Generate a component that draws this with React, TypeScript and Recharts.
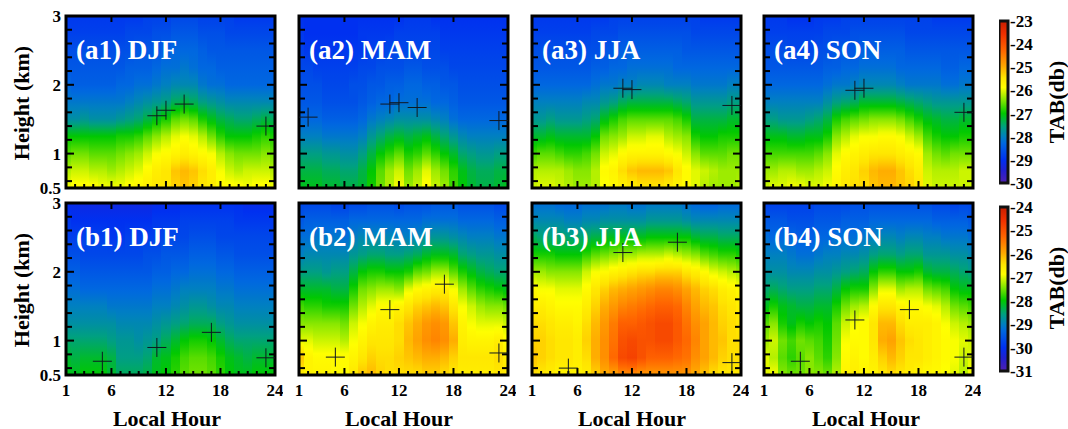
import React from 'react';
import { ScatterChart, Scatter, XAxis, YAxis, ReferenceArea } from 'recharts';

// TAB magnitudes in dB (the plotted value is the negative). Rows are the heights, columns hours 1..24.
const heights = [0.5, 0.75, 1, 1.25, 1.5, 1.75, 2, 2.25, 2.5, 2.75, 3];
const hours = [1,2,3,4,5,6,7,8,9,10,11,12,13,14,15,16,17,18,19,20,21,22,23,24];
const xLabels = [1, 6, 12, 18, 24];
const xInnerTicks = [2,3,4,5,6,7,8,9,10,11,12,13,14,15,16,17,18,19,20,21,22,23];
const xMajor = [6, 12, 18];
const yInnerTicks = [0.6,0.8,1,1.2,1.4,1.6,1.8,2,2.2,2.4,2.6,2.8];
const yMajor = [1, 2];
const yLabels = [0.5, 1, 2, 3];

const a1 = [
[25.9,25.8,25.8,25.8,25.9,25.9,25.9,25.8,25.7,25.6,25.5,25.5,25.3,25.2,25.3,25.5,25.6,25.8,25.8,25.8,25.9,25.8,25.8,25.9],
[26.2,26.1,26.1,26.2,26.2,26.3,26.2,26.1,26.0,25.8,25.6,25.5,25.2,25.1,25.2,25.4,25.6,25.9,26.1,26.2,26.1,26.1,26.1,26.2],
[26.6,26.5,26.5,26.6,26.6,26.6,26.5,26.4,26.3,26.1,25.9,25.8,25.7,25.6,25.7,25.8,25.9,26.2,26.4,26.5,26.5,26.5,26.4,26.5],
[27.0,27.0,27.0,27.0,27.0,27.0,26.9,26.9,26.8,26.6,26.4,26.2,26.0,25.9,26.0,26.2,26.5,26.8,27.0,27.0,27.0,26.9,26.8,26.9],
[27.8,27.8,27.7,27.8,27.8,27.8,27.7,27.6,27.5,27.3,27.1,26.9,26.6,26.5,26.6,26.9,27.1,27.3,27.4,27.5,27.5,27.4,27.3,27.4],
[28.1,28.1,28.1,28.1,28.1,28.1,28.1,28.0,27.9,27.8,27.7,27.6,27.4,27.3,27.4,27.6,27.7,27.8,27.9,27.9,27.9,27.9,27.9,27.9],
[28.3,28.4,28.4,28.4,28.4,28.4,28.3,28.3,28.2,28.2,28.1,28.0,27.9,27.9,27.9,28.1,28.2,28.2,28.3,28.3,28.3,28.3,28.3,28.3],
[28.5,28.5,28.5,28.5,28.5,28.5,28.5,28.4,28.4,28.4,28.3,28.2,28.2,28.1,28.2,28.3,28.3,28.4,28.4,28.4,28.4,28.4,28.4,28.4],
[28.6,28.6,28.6,28.6,28.6,28.6,28.6,28.6,28.5,28.5,28.5,28.4,28.3,28.3,28.3,28.4,28.5,28.5,28.5,28.5,28.5,28.5,28.5,28.5],
[28.8,28.8,28.8,28.8,28.8,28.8,28.8,28.7,28.7,28.7,28.6,28.6,28.5,28.5,28.5,28.6,28.6,28.6,28.7,28.7,28.7,28.7,28.7,28.7],
[28.9,28.9,28.9,28.9,28.9,28.9,28.9,28.9,28.9,28.8,28.8,28.8,28.7,28.7,28.7,28.8,28.8,28.8,28.8,28.9,28.9,28.9,28.9,28.9],
];
const a2 = [
[27.1,27.1,27.1,27.2,27.2,27.3,27.3,27.2,26.9,26.5,26.2,25.9,26.3,26.1,25.8,26.1,26.3,26.7,27.0,27.2,27.3,27.3,27.2,27.1],
[27.3,27.3,27.3,27.4,27.4,27.5,27.5,27.3,27.0,26.6,26.3,26.1,26.5,26.3,26.0,26.3,26.5,26.8,27.1,27.3,27.4,27.4,27.3,27.3],
[27.6,27.6,27.6,27.7,27.7,27.8,27.8,27.6,27.3,27.0,26.8,26.6,26.9,26.8,26.6,26.8,27.0,27.2,27.5,27.6,27.7,27.7,27.6,27.6],
[28.0,28.0,28.0,28.1,28.1,28.1,28.1,28.0,27.7,27.5,27.3,27.2,27.3,27.2,27.1,27.3,27.5,27.7,27.9,28.0,28.0,28.0,28.0,28.0],
[28.3,28.3,28.3,28.4,28.4,28.4,28.4,28.3,28.1,28.0,27.9,27.8,27.8,27.8,27.8,27.9,28.0,28.2,28.3,28.3,28.3,28.3,28.3,28.3],
[28.5,28.5,28.5,28.6,28.6,28.6,28.6,28.5,28.4,28.3,28.3,28.2,28.2,28.2,28.2,28.3,28.3,28.4,28.5,28.5,28.5,28.5,28.5,28.5],
[28.6,28.6,28.6,28.7,28.7,28.7,28.6,28.6,28.5,28.5,28.4,28.4,28.3,28.3,28.4,28.4,28.5,28.5,28.6,28.6,28.6,28.6,28.6,28.6],
[28.7,28.7,28.8,28.8,28.8,28.8,28.8,28.7,28.7,28.6,28.6,28.6,28.5,28.5,28.6,28.6,28.6,28.7,28.7,28.7,28.7,28.7,28.7,28.7],
[28.8,28.9,28.9,28.9,28.9,28.9,28.9,28.9,28.8,28.8,28.7,28.7,28.7,28.7,28.7,28.7,28.8,28.8,28.8,28.8,28.8,28.8,28.8,28.8],
[28.9,29.0,29.0,29.0,29.0,29.0,29.0,28.9,28.9,28.9,28.9,28.8,28.8,28.8,28.8,28.8,28.9,28.9,28.9,28.9,28.9,28.9,28.9,28.9],
[29.0,29.0,29.0,29.0,29.0,29.0,29.0,29.0,29.0,29.0,29.0,29.0,28.9,28.9,28.9,29.0,29.0,29.0,29.0,29.0,29.0,29.0,29.0,29.0],
];
const a3 = [
[26.1,26.0,26.0,26.1,26.2,26.3,26.3,26.2,25.9,25.8,25.7,25.6,25.5,25.5,25.5,25.6,25.7,25.8,26.0,26.2,26.3,26.3,26.3,26.2],
[26.2,26.2,26.2,26.2,26.3,26.4,26.4,26.2,25.8,25.7,25.4,25.2,25.1,25.1,25.1,25.2,25.5,25.8,26.0,26.1,26.2,26.3,26.3,26.3],
[26.7,26.6,26.6,26.7,26.8,26.8,26.7,26.5,26.1,26.0,25.8,25.7,25.7,25.7,25.7,25.8,25.9,26.1,26.4,26.6,26.6,26.6,26.5,26.5],
[27.2,27.2,27.1,27.2,27.2,27.2,27.2,27.0,26.5,26.4,26.3,26.1,26.1,26.0,26.0,26.2,26.3,26.4,26.9,27.0,27.0,26.9,26.9,26.9],
[27.7,27.7,27.6,27.7,27.7,27.7,27.6,27.5,27.1,26.9,26.7,26.6,26.6,26.6,26.6,26.6,26.7,26.9,27.3,27.3,27.3,27.3,27.2,27.2],
[28.0,28.0,28.0,28.0,28.0,28.0,27.9,27.9,27.7,27.6,27.4,27.3,27.3,27.3,27.3,27.3,27.4,27.5,27.7,27.7,27.7,27.7,27.6,27.6],
[28.3,28.3,28.3,28.3,28.3,28.3,28.3,28.2,28.1,28.1,28.0,28.0,27.9,27.9,27.9,28.0,28.0,28.0,28.1,28.1,28.1,28.1,28.0,28.0],
[28.5,28.5,28.5,28.5,28.5,28.5,28.5,28.4,28.4,28.3,28.3,28.2,28.2,28.2,28.2,28.2,28.3,28.3,28.3,28.3,28.3,28.3,28.3,28.3],
[28.6,28.6,28.6,28.6,28.6,28.6,28.6,28.6,28.5,28.5,28.4,28.4,28.4,28.4,28.4,28.4,28.4,28.5,28.5,28.5,28.5,28.5,28.5,28.5],
[28.8,28.8,28.8,28.8,28.8,28.8,28.8,28.7,28.7,28.7,28.6,28.6,28.6,28.6,28.6,28.6,28.6,28.6,28.7,28.7,28.7,28.7,28.7,28.7],
[28.9,28.9,28.9,28.9,28.9,28.9,28.9,28.9,28.9,28.8,28.8,28.8,28.8,28.8,28.8,28.8,28.8,28.8,28.8,28.9,28.9,28.9,28.9,28.9],
];
const a4 = [
[26.1,26.0,26.0,25.9,25.9,26.0,26.0,25.9,25.7,25.5,25.4,25.4,25.2,25.1,25.1,25.2,25.3,25.5,26.0,26.1,26.1,26.1,26.1,26.1],
[26.3,26.3,26.2,26.2,26.3,26.3,26.2,26.1,25.8,25.6,25.5,25.3,25.1,25.0,25.0,25.2,25.4,25.6,26.1,26.2,26.2,26.2,26.1,26.1],
[26.7,26.7,26.7,26.7,26.7,26.7,26.6,26.4,26.0,25.8,25.7,25.6,25.5,25.5,25.5,25.6,25.7,25.8,26.3,26.5,26.6,26.5,26.5,26.5],
[27.1,27.1,27.1,27.2,27.2,27.1,27.1,26.9,26.4,26.2,26.0,25.9,25.9,25.8,25.8,25.9,26.1,26.3,26.7,26.9,27.0,27.0,26.9,26.9],
[27.6,27.6,27.7,27.7,27.7,27.6,27.5,27.3,26.9,26.7,26.6,26.5,26.4,26.4,26.4,26.5,26.7,26.9,27.1,27.2,27.3,27.3,27.2,27.2],
[28.0,28.0,28.0,28.0,28.0,28.0,28.0,27.8,27.6,27.5,27.4,27.2,27.2,27.2,27.2,27.3,27.4,27.5,27.6,27.7,27.7,27.7,27.7,27.7],
[28.3,28.3,28.3,28.3,28.3,28.3,28.3,28.2,28.1,28.1,28.0,27.9,27.9,27.9,27.9,28.0,28.1,28.1,28.1,28.1,28.2,28.2,28.1,28.1],
[28.5,28.5,28.5,28.5,28.5,28.5,28.5,28.4,28.4,28.3,28.3,28.2,28.2,28.2,28.2,28.3,28.3,28.3,28.3,28.3,28.4,28.4,28.3,28.3],
[28.6,28.6,28.6,28.7,28.7,28.7,28.6,28.6,28.5,28.5,28.5,28.4,28.4,28.4,28.4,28.4,28.5,28.5,28.5,28.5,28.5,28.5,28.5,28.5],
[28.8,28.8,28.8,28.8,28.8,28.8,28.8,28.7,28.7,28.7,28.6,28.6,28.6,28.6,28.6,28.6,28.7,28.7,28.7,28.7,28.7,28.7,28.7,28.7],
[28.9,28.9,28.9,29.0,29.0,29.0,28.9,28.9,28.9,28.8,28.8,28.8,28.8,28.8,28.8,28.8,28.8,28.8,28.8,28.9,28.9,28.9,28.9,28.9],
];
const b1 = [
[28.1,28.1,28.0,28.0,28.0,28.2,28.4,28.4,28.4,28.3,28.1,28.0,27.8,27.6,27.5,27.5,27.6,27.8,28.0,28.1,28.1,28.0,28.0,28.0],
[28.2,28.3,28.2,28.2,28.2,28.3,28.6,28.6,28.6,28.5,28.2,28.1,27.9,27.7,27.6,27.6,27.7,27.9,28.1,28.2,28.3,28.2,28.2,28.2],
[28.5,28.5,28.5,28.5,28.5,28.6,28.7,28.7,28.8,28.7,28.6,28.4,28.2,28.0,27.9,27.9,28.0,28.2,28.4,28.5,28.5,28.5,28.5,28.5],
[28.8,28.8,28.8,28.8,28.8,28.8,28.9,28.9,28.9,28.9,28.8,28.7,28.6,28.5,28.4,28.4,28.4,28.6,28.7,28.8,28.8,28.8,28.8,28.8],
[29.0,29.0,29.0,29.0,29.0,29.1,29.1,29.1,29.1,29.1,29.0,29.0,28.9,28.8,28.7,28.7,28.8,28.9,28.9,29.0,29.0,29.0,29.0,29.0],
[29.2,29.2,29.3,29.3,29.3,29.3,29.3,29.3,29.3,29.3,29.2,29.2,29.1,29.0,29.0,29.0,29.0,29.1,29.1,29.2,29.2,29.2,29.2,29.2],
[29.4,29.4,29.5,29.5,29.5,29.5,29.5,29.5,29.5,29.5,29.4,29.4,29.3,29.3,29.2,29.2,29.2,29.3,29.3,29.4,29.4,29.4,29.4,29.4],
[29.6,29.6,29.7,29.7,29.7,29.7,29.7,29.7,29.7,29.6,29.6,29.5,29.5,29.5,29.4,29.4,29.4,29.5,29.5,29.6,29.6,29.6,29.6,29.6],
[29.8,29.8,29.8,29.8,29.8,29.9,29.9,29.8,29.8,29.8,29.8,29.7,29.7,29.7,29.6,29.6,29.6,29.7,29.7,29.7,29.7,29.7,29.7,29.8],
[29.9,30.0,30.0,30.0,30.0,30.0,30.0,30.0,30.0,30.0,29.9,29.9,29.9,29.8,29.8,29.8,29.8,29.8,29.8,29.9,29.9,29.9,29.9,29.9],
[30.1,30.1,30.2,30.2,30.2,30.2,30.2,30.2,30.2,30.2,30.1,30.1,30.1,30.0,30.0,30.0,30.0,30.0,30.0,30.0,30.1,30.1,30.1,30.1],
];
const b2 = [
[26.6,26.7,26.7,26.7,26.8,26.8,26.5,26.2,26.1,26.3,26.4,26.4,26.4,26.4,26.3,26.3,26.4,26.5,26.6,26.6,26.6,26.6,26.5,26.5],
[26.2,26.7,26.8,26.8,26.8,26.8,26.7,26.5,26.3,26.4,26.4,26.3,26.2,26.1,26.0,26.0,26.1,26.3,26.5,26.5,26.5,26.5,26.4,26.6],
[27.0,27.0,27.1,27.1,27.1,27.2,26.9,26.7,26.5,26.5,26.5,26.4,26.1,25.9,25.7,25.6,25.7,26.0,26.6,26.7,26.7,26.7,26.6,26.8],
[27.4,27.4,27.4,27.4,27.4,27.5,27.1,26.9,26.7,26.6,26.6,26.4,26.2,26.0,25.8,25.7,25.8,26.2,26.7,26.9,27.0,27.0,27.0,27.1],
[27.7,27.8,27.8,27.9,27.9,27.9,27.5,27.2,27.0,26.8,26.8,26.7,26.5,26.3,26.2,26.1,26.2,26.5,26.9,27.1,27.3,27.4,27.4,27.5],
[28.2,28.2,28.2,28.2,28.3,28.3,27.9,27.5,27.4,27.3,27.3,27.4,27.0,26.8,26.7,26.6,26.6,26.9,27.3,27.6,27.8,27.9,28.0,28.1],
[28.6,28.6,28.6,28.7,28.6,28.6,28.3,28.0,27.9,27.9,28.0,28.0,27.9,27.6,27.5,27.3,27.3,27.6,27.9,28.1,28.3,28.4,28.5,28.5],
[29.0,28.9,28.9,28.9,28.9,28.9,28.7,28.6,28.5,28.5,28.6,28.6,28.5,28.4,28.2,28.1,28.1,28.2,28.5,28.6,28.7,28.7,28.8,28.8],
[29.2,29.2,29.1,29.1,29.1,29.2,29.0,28.9,28.9,28.9,28.9,29.0,29.0,28.9,28.8,28.7,28.7,28.8,28.9,29.0,29.0,29.0,29.1,29.1],
[29.5,29.4,29.4,29.4,29.4,29.4,29.3,29.3,29.3,29.3,29.3,29.3,29.3,29.3,29.2,29.2,29.2,29.2,29.3,29.3,29.3,29.3,29.4,29.4],
[29.7,29.7,29.7,29.7,29.8,29.8,29.7,29.7,29.6,29.6,29.6,29.7,29.6,29.6,29.6,29.5,29.5,29.5,29.6,29.6,29.6,29.6,29.7,29.7],
];
const b3 = [
[26.4,26.5,26.6,26.7,26.7,26.7,26.6,26.3,26.0,25.9,25.7,25.7,25.8,25.8,25.8,25.8,25.8,25.8,26.0,26.2,26.4,26.5,26.5,26.5],
[26.2,26.3,26.4,26.5,26.5,26.6,26.4,26.0,25.7,25.3,24.9,24.8,25.0,25.2,25.2,25.2,25.3,25.4,25.7,25.9,26.1,26.3,26.4,26.4],
[26.3,26.3,26.4,26.5,26.5,26.6,26.3,26.0,25.7,25.4,25.0,24.9,25.0,25.0,24.9,24.9,25.1,25.3,25.6,25.9,26.1,26.2,26.4,26.4],
[26.4,26.4,26.5,26.6,26.6,26.7,26.4,26.1,25.8,25.5,25.2,25.2,25.1,25.0,24.9,24.9,25.1,25.4,25.7,25.9,26.1,26.3,26.4,26.5],
[26.6,26.6,26.7,26.8,26.8,26.8,26.6,26.3,26.0,25.8,25.6,25.5,25.4,25.3,25.2,25.2,25.3,25.6,25.9,26.1,26.2,26.4,26.5,26.6],
[26.8,26.9,26.9,27.0,27.0,27.0,26.8,26.5,26.3,26.1,26.0,25.9,25.8,25.7,25.6,25.6,25.7,25.9,26.1,26.3,26.4,26.6,26.7,26.8],
[27.3,27.3,27.4,27.4,27.4,27.4,27.1,26.9,26.8,26.7,26.6,26.5,26.4,26.4,26.3,26.3,26.3,26.5,26.6,26.8,27.0,27.1,27.2,27.3],
[27.9,27.9,27.9,28.0,28.0,28.0,27.8,27.6,27.5,27.4,27.3,27.3,27.2,27.2,27.2,27.1,27.2,27.3,27.4,27.6,27.7,27.8,27.8,27.9],
[28.4,28.5,28.5,28.5,28.5,28.5,28.4,28.3,28.2,28.1,28.1,28.1,28.1,28.0,28.0,28.0,28.0,28.0,28.2,28.3,28.3,28.4,28.4,28.4],
[28.9,28.9,28.9,28.9,29.0,29.0,28.9,28.9,28.8,28.8,28.8,28.8,28.8,28.7,28.7,28.7,28.7,28.8,28.9,28.9,28.9,28.9,28.9,28.9],
[29.2,29.2,29.2,29.3,29.3,29.3,29.2,29.2,29.2,29.1,29.1,29.2,29.2,29.1,29.1,29.1,29.1,29.2,29.3,29.4,29.4,29.3,29.3,29.3],
];
const b4 = [
[27.0,26.9,27.4,27.5,27.5,27.4,27.4,27.5,27.2,26.7,26.6,26.7,26.7,26.5,26.4,26.5,26.6,26.7,26.8,26.8,26.9,27.0,27.2,26.9],
[27.0,27.2,27.6,27.8,27.6,27.4,27.6,27.8,27.4,26.8,26.7,26.8,26.6,26.3,26.1,26.3,26.5,26.5,26.6,26.7,26.8,26.9,27.1,27.0],
[27.3,27.1,27.5,27.7,27.5,27.6,27.7,27.9,27.5,26.9,26.8,26.8,26.5,26.0,25.9,26.2,26.4,26.5,26.6,26.7,26.8,26.9,27.0,27.1],
[27.6,27.4,27.9,28.1,27.9,28.0,27.9,28.0,27.6,27.1,26.9,26.8,26.5,26.1,26.1,26.4,26.6,26.6,26.6,26.7,26.9,27.1,27.2,27.3],
[28.1,27.9,28.1,28.2,28.3,28.3,28.2,28.2,27.9,27.5,27.3,27.2,26.8,26.5,26.5,26.7,26.8,26.8,26.9,27.0,27.2,27.5,27.6,27.7],
[28.5,28.4,28.5,28.6,28.6,28.6,28.5,28.5,28.3,28.0,27.9,27.9,27.4,27.0,27.0,27.3,27.2,27.2,27.5,27.6,27.7,28.0,28.1,28.1],
[28.8,28.8,28.8,28.9,28.9,28.9,28.8,28.8,28.7,28.6,28.5,28.4,28.0,27.8,27.8,28.0,28.0,27.9,28.2,28.3,28.3,28.4,28.5,28.6],
[29.0,29.0,29.0,29.1,29.2,29.2,29.1,29.0,29.0,28.9,28.9,28.8,28.6,28.5,28.5,28.6,28.5,28.5,28.7,28.7,28.7,28.8,28.8,28.9],
[29.2,29.3,29.3,29.3,29.4,29.4,29.3,29.3,29.2,29.2,29.2,29.1,29.0,28.9,28.9,29.0,28.9,28.9,29.0,29.0,29.1,29.1,29.1,29.2],
[29.5,29.5,29.5,29.6,29.6,29.6,29.5,29.5,29.5,29.4,29.4,29.4,29.3,29.3,29.3,29.3,29.3,29.3,29.3,29.4,29.4,29.4,29.4,29.5],
[29.8,29.8,29.8,29.8,29.8,29.8,29.7,29.7,29.7,29.7,29.6,29.6,29.6,29.6,29.6,29.6,29.6,29.6,29.6,29.7,29.7,29.8,29.7,29.7],
];

// Boundary-layer height markers: [hour, height km]
const a1Marks = [[11,1.55],[12,1.63],[14,1.72],[23,1.4]];
const a2Marks = [[2,1.53],[11,1.72],[12,1.74],[14,1.67],[23,1.48]];
const a3Marks = [[11,1.95],[12,1.93],[23,1.7]];
const a4Marks = [[11,1.92],[12,1.95],[23,1.6]];
const b1Marks = [[5,0.7],[11,0.9],[17,1.12],[23,0.75]];
const b2Marks = [[5,0.76],[11,1.45],[17,1.82],[23,0.82]];
const b3Marks = [[5,0.6],[11,2.28],[17,2.43],[23,0.68]];
const b4Marks = [[5,0.7],[11,1.3],[17,1.45],[23,0.76]];

const panels = [
  { id: 'a1', title: '(a1) DJF', rows: a1, marks: a1Marks, min: 30, left: 66, top: 16, yLab: true, xLab: false },
  { id: 'a2', title: '(a2) MAM', rows: a2, marks: a2Marks, min: 30, left: 299, top: 16, yLab: false, xLab: false },
  { id: 'a3', title: '(a3) JJA', rows: a3, marks: a3Marks, min: 30, left: 532, top: 16, yLab: false, xLab: false },
  { id: 'a4', title: '(a4) SON', rows: a4, marks: a4Marks, min: 30, left: 764, top: 16, yLab: false, xLab: false },
  { id: 'b1', title: '(b1) DJF', rows: b1, marks: b1Marks, min: 31, left: 66, top: 203, yLab: true, xLab: true },
  { id: 'b2', title: '(b2) MAM', rows: b2, marks: b2Marks, min: 31, left: 299, top: 203, yLab: false, xLab: true },
  { id: 'b3', title: '(b3) JJA', rows: b3, marks: b3Marks, min: 31, left: 532, top: 203, yLab: false, xLab: true },
  { id: 'b4', title: '(b4) SON', rows: b4, marks: b4Marks, min: 31, left: 764, top: 203, yLab: false, xLab: true },
];

const colorStops: [number, number[]][] = [
  [0, [80, 32, 176]], [0.08, [32, 32, 208]], [0.143, [0, 48, 240]], [0.245, [0, 104, 224]],
  [0.286, [0, 128, 192]], [0.347, [0, 160, 128]], [0.43, [0, 200, 0]], [0.51, [128, 230, 0]],
  [0.59, [255, 255, 0]], [0.65, [255, 228, 0]], [0.72, [255, 168, 0]], [0.82, [255, 100, 0]], [0.92, [240, 48, 0]], [1, [200, 30, 0]],
];
function colorAt(t: number) {
  const c = Math.max(0, Math.min(1, t));
  for (let i = 1; i < colorStops.length; i++) {
    if (c <= colorStops[i][0]) {
      const [t0, a] = colorStops[i - 1];
      const [t1, b] = colorStops[i];
      const f = (c - t0) / (t1 - t0);
      return `rgb(${a.map((v, k) => Math.round(v + (b[k] - v) * f)).join(',')})`;
    }
  }
  return 'rgb(200,30,0)';
}
const FONT = '"Liberation Serif", serif';
const W = 209;
const H = 172;
const ML = 34, MT = 8, MR = 8, MB = 26;

function columnStops(rows: number[][], col: number, min: number) {
  const out: React.ReactElement[] = [];
  const span = heights[heights.length - 1] - heights[0];
  heights.forEach((h, r) => {
    const v = rows[r][col];
    const parts = r < heights.length - 1 ? 4 : 1;
    for (let p = 0; p < parts; p++) {
      const f = p / parts;
      const next = r < heights.length - 1 ? rows[r + 1][col] : v;
      const nh = r < heights.length - 1 ? heights[r + 1] : h;
      const val = v + (next - v) * f;
      const hh = h + (nh - h) * f;
      out.push(<stop key={`${r}-${p}`} offset={(hh - heights[0]) / span} stopColor={colorAt((min - val) / 7)} />);
    }
  });
  return out;
}

const Cross = (p: any) => (
  <g stroke="#101820" strokeWidth={1} fill="none">
    <line x1={p.cx - 9.5} x2={p.cx + 9.5} y1={p.cy} y2={p.cy} />
    <line x1={p.cx} x2={p.cx} y1={p.cy - 9.5} y2={p.cy + 9.5} />
  </g>
);
// Tick marks pointing into the plot from the position the scales give.
const TickUp = (p: any) => <line x1={p.cx} x2={p.cx} y1={p.cy} y2={p.cy - (xMajor.includes(p.payload.hour) ? 7 : 4)} stroke="#000" strokeWidth={2} />;
const TickDown = (p: any) => <line x1={p.cx} x2={p.cx} y1={p.cy} y2={p.cy + 6} stroke="#000" strokeWidth={2} />;
const TickRight = (p: any) => <line x1={p.cx} x2={p.cx + (yMajor.includes(p.payload.height) ? 8 : 6)} y1={p.cy} y2={p.cy} stroke="#000" strokeWidth={2} />;
const TickLeft = (p: any) => <line x1={p.cx} x2={p.cx - (yMajor.includes(p.payload.height) ? 8 : 6)} y1={p.cy} y2={p.cy} stroke="#000" strokeWidth={2} />;

const bottomTicks = xInnerTicks.map((hour) => ({ hour, height: 0.5 }));
const topTicks = xMajor.map((hour) => ({ hour, height: 3 }));
const leftTicks = yInnerTicks.map((height) => ({ hour: 1, height }));
const rightTicks = yInnerTicks.map((height) => ({ hour: 24, height }));

function Panel({ panel }: { panel: (typeof panels)[number] }) {
  const XTick = (p: any) => {
    const v = p.payload.value;
    return panel.xLab ? (
      <text x={p.x} y={p.y + 21} textAnchor="middle" fontFamily={FONT} fontWeight="bold" fontSize={17} fill="#000">{v}</text>
    ) : <g />;
  };
  const YTick = (p: any) => {
    const v = p.payload.value;
    return panel.yLab ? (
      <text x={p.x - 5} y={p.y + 6} textAnchor="end" fontFamily={FONT} fontWeight="bold" fontSize={17} fill="#000">{v}</text>
    ) : <g />;
  };
  const data = panel.marks.map(([hour, height]) => ({ hour, height }));
  return (
    <div style={{ position: 'absolute', left: panel.left - ML, top: panel.top - MT }}>
      <ScatterChart width={W + ML + MR} height={H + MT + MB} margin={{ top: MT, right: MR, left: 0, bottom: 0 }}>
        <XAxis type="number" dataKey="hour" domain={[1, 24]} ticks={xLabels} interval={0} height={MB} tickSize={0} tickMargin={0} axisLine={false} tickLine={false} tick={XTick} allowDataOverflow />
        <YAxis type="number" dataKey="height" domain={[0.5, 3]} ticks={yLabels} interval={0} width={ML} tickSize={0} tickMargin={0} axisLine={false} tickLine={false} tick={YTick} allowDataOverflow />
        {hours.map((h) => (
          <ReferenceArea key={h} x1={Math.max(1, h - 0.5)} x2={Math.min(24, h + 0.5)} y1={0.5} y2={3}
            fill={`url(#${panel.id}-${h})`} stroke="none" fillOpacity={1} shapeRendering="crispEdges" />
        ))}
        <ReferenceArea x1={1} x2={24} y1={0.5} y2={3} fill="none" stroke="#000" strokeWidth={3} />
        <Scatter data={bottomTicks} dataKey="height" isAnimationActive={false} shape={TickUp} />
        <Scatter data={topTicks} dataKey="height" isAnimationActive={false} shape={TickDown} />
        <Scatter data={leftTicks} dataKey="height" isAnimationActive={false} shape={TickRight} />
        <Scatter data={rightTicks} dataKey="height" isAnimationActive={false} shape={TickLeft} />
        <Scatter data={data} dataKey="height" isAnimationActive={false} shape={Cross} />
      </ScatterChart>
    </div>
  );
}

const barA = { id: 'barA', top: 21, bottom: 183, lo: -30, hi: -23, ticks: [-30,-29,-28,-27,-26,-25,-24,-23] };
const barB = { id: 'barB', top: 207, bottom: 371, lo: -31, hi: -24, ticks: [-31,-30,-29,-28,-27,-26,-25,-24] };
const barSteps = colorStops.map((s) => s[0]);

function ColorBar({ bar }: { bar: typeof barA }) {
  const BTick = (p: any) => (
    <text x={p.x + 2} y={p.y + 6} textAnchor="start" fontFamily={FONT} fontWeight="bold" fontSize={17} fill="#000">{p.payload.value}</text>
  );
  const ends = [{ p: 0, v: bar.lo }, { p: 1, v: bar.hi }];
  return (
    <div style={{ position: 'absolute', left: 999, top: bar.top - 14 }}>
      <ScatterChart width={47} height={bar.bottom - bar.top + 28} margin={{ top: 14, right: 0, left: 0, bottom: 14 }}>
        <XAxis type="number" dataKey="p" domain={[0, 1]} hide />
        <YAxis type="number" dataKey="v" orientation="right" domain={[bar.lo, bar.hi]} ticks={bar.ticks} interval={0} width={38} tickSize={0} tickMargin={0} axisLine={false} tickLine={false} tick={BTick} allowDataOverflow />
        <ReferenceArea x1={0} x2={1} y1={bar.lo} y2={bar.hi} fill={`url(#${bar.id})`} stroke="#111" strokeWidth={3} fillOpacity={1} />
        <Scatter data={ends} dataKey="v" isAnimationActive={false} shape={() => <g />} />
      </ScatterChart>
    </div>
  );
}

const rotated = [
  { text: 'Height (km)', x: 29, y: 103 },
  { text: 'Height (km)', x: 29, y: 290 },
  { text: 'TAB(db)', x: 1064, y: 102 },
  { text: 'TAB(db)', x: 1064, y: 288 },
];
const hourTitles = [167, 399, 632, 866];

export default function App() {
  return (
    <div style={{ position: 'absolute', left: 0, top: 0, width: 1068, height: 429, background: '#fff', overflow: 'hidden' }}>
      <svg width={1068} height={429} style={{ position: 'absolute', left: 0, top: 0 }}>
        <defs>
          {panels.map((p) => hours.map((h, i) => (
            <linearGradient key={`${p.id}-${h}`} id={`${p.id}-${h}`} x1="0" y1="1" x2="0" y2="0">
              {columnStops(p.rows, i, p.min)}
            </linearGradient>
          )))}
          {[barA, barB].map((b) => (
            <linearGradient key={b.id} id={b.id} x1="0" y1="1" x2="0" y2="0">
              {barSteps.map((t) => <stop key={t} offset={t} stopColor={colorAt(t)} />)}
            </linearGradient>
          ))}
        </defs>
      </svg>
      {panels.map((p) => <Panel key={p.id} panel={p} />)}
      <ColorBar bar={barA} />
      <ColorBar bar={barB} />
      <svg width={1068} height={429} style={{ position: 'absolute', left: 0, top: 0, pointerEvents: 'none' }}>
        {panels.map((p) => (
          <text key={p.id} x={p.left + 10} y={p.top + 43} fontFamily={FONT} fontWeight="bold" fontSize={27} fill="#fff">{p.title}</text>
        ))}
        {rotated.map((r, i) => (
          <text key={i} transform={`translate(${r.x},${r.y}) rotate(-90)`} textAnchor="middle" fontFamily={FONT} fontWeight="bold" fontSize={22} fill="#000">{r.text}</text>
        ))}
        {hourTitles.map((x) => (
          <text key={x} x={x} y={426} textAnchor="middle" fontFamily={FONT} fontWeight="bold" fontSize={22} fill="#000">Local Hour</text>
        ))}
      </svg>
    </div>
  );
}
